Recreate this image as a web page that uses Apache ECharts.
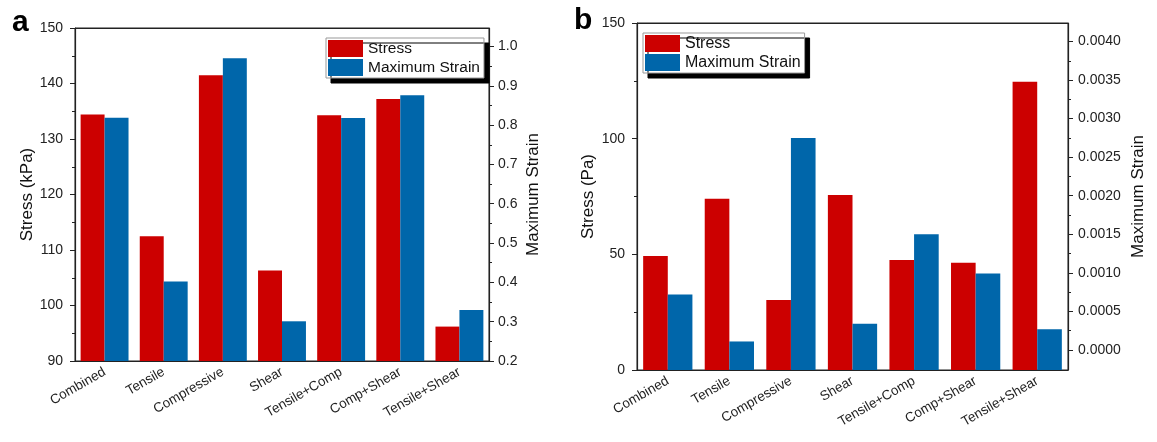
<!DOCTYPE html>
<html>
<head>
<meta charset="utf-8">
<script src="https://cdn.jsdelivr.net/npm/echarts@6/dist/echarts.min.js"></script>
<style>
  html, body { margin: 0; padding: 0; background: #fff; }
  #chart { width: 1157px; height: 442px; }
</style>
</head>
<body>
<div id="chart"></div>
<script>
const categories = ['Combined', 'Tensile', 'Compressive', 'Shear', 'Tensile+Comp', 'Comp+Shear', 'Tensile+Shear'];

// panel a
const stressA = [134.4, 112.5, 141.5, 106.3, 134.3, 137.2, 96.2];
const strainA = [0.819, 0.402, 0.970, 0.301, 0.818, 0.876, 0.330];
const stressTicksA = [90, 100, 110, 120, 130, 140, 150];
const strainTicksA = [0.2, 0.3, 0.4, 0.5, 0.6, 0.7, 0.8, 0.9, 1.0];

// panel b
const stressB = [49.3, 74.0, 30.3, 75.7, 47.5, 46.4, 124.6];
const strainB = [0.00072, 0.00011, 0.00275, 0.00034, 0.00150, 0.00099, 0.00027];
const stressTicksB = [0, 50, 100, 150];
const strainTicksB = [0, 0.0005, 0.001, 0.0015, 0.002, 0.0025, 0.003, 0.0035, 0.004];

const RED = '#cc0000';
const BLUE = '#0066aa';
const INK = '#222';
const FONT = 'Arial, "Liberation Sans", sans-serif';

const mids = (t) => t.slice(1).map((v, i) => (v + t[i]) / 2);

const chart = echarts.init(document.getElementById('chart'));

// 4 category axes per panel: bottom (labels + major ticks), bottom minor ticks,
// top mirror major ticks, top mirror minor ticks
function xAxes(grid) {
  const base = {
    type: 'category', gridIndex: grid, data: categories,
    axisLine: { show: false, onZero: false }, axisLabel: { show: false }, splitLine: { show: false }
  };
  return [
    Object.assign({}, base, {
      position: 'bottom',
      axisLine: { show: true, onZero: false, lineStyle: { color: INK, width: 1.2 } },
      axisTick: { alignWithLabel: true, length: 5, lineStyle: { color: INK } },
      axisLabel: { show: true, rotate: 30, fontSize: 13.5, color: INK, fontFamily: FONT, margin: 10, interval: 0 }
    }),
    Object.assign({}, base, {
      position: 'bottom',
      axisTick: { alignWithLabel: false, length: 3, lineStyle: { color: INK } }
    }),
    Object.assign({}, base, {
      position: 'top',
      axisLine: { show: true, onZero: false, lineStyle: { color: INK, width: 1.2 } },
      axisTick: { alignWithLabel: true, inside: true, length: 5, lineStyle: { color: INK } }
    }),
    Object.assign({}, base, {
      position: 'top',
      axisTick: { alignWithLabel: false, inside: true, length: 3, lineStyle: { color: INK } }
    })
  ];
}

function yPair(grid, pos, min, max, ticks, fmt, name, gap, margin) {
  return [
    {
      type: 'value', gridIndex: grid, position: pos, min: min, max: max, startValue: min,
      name: name, nameLocation: 'middle', nameGap: gap, nameRotate: 90,
      nameTextStyle: { fontSize: 17, color: '#111', fontFamily: FONT },
      splitLine: { show: false },
      axisLine: { show: true, onZero: false, lineStyle: { color: INK, width: 1.2 } },
      axisTick: { show: true, length: 5, customValues: ticks, lineStyle: { color: INK } },
      axisLabel: { customValues: ticks, formatter: fmt, fontSize: 14, color: INK, fontFamily: FONT, margin: margin }
    },
    {
      type: 'value', gridIndex: grid, position: pos, min: min, max: max,
      splitLine: { show: false }, axisLine: { show: false, onZero: false }, axisLabel: { show: false },
      axisTick: { show: true, length: 3, customValues: mids(ticks), lineStyle: { color: INK } }
    }
  ];
}

function legend(left, top, size) {
  return {
    left: left, top: top,
    orient: 'vertical', icon: 'rect', itemWidth: 35, itemHeight: 17, itemGap: 2,
    padding: [2, 4, 2, 2], backgroundColor: '#fff', borderColor: '#999', borderWidth: 1,
    shadowColor: '#000', shadowBlur: 0, shadowOffsetX: 5, shadowOffsetY: 5,
    textStyle: { fontSize: size, color: '#111', fontFamily: FONT },
    data: ['Stress', 'Maximum Strain'], selectedMode: false
  };
}

const option = {
  animation: false,
  textStyle: { fontFamily: FONT },
  title: [
    { text: 'a', left: 7, top: 3, textStyle: { fontSize: 30, fontWeight: 'bold', color: '#000', fontFamily: FONT } },
    { text: 'b', left: 569, top: 1, textStyle: { fontSize: 30, fontWeight: 'bold', color: '#000', fontFamily: FONT } }
  ],
  legend: [legend(326, 38, 15.5), legend(643, 33, 16)],
  grid: [
    { left: 75, top: 28, width: 414, height: 333, show: true, borderColor: INK, borderWidth: 1 },
    { left: 637, top: 23, width: 431, height: 347, show: true, borderColor: INK, borderWidth: 1 }
  ],
  xAxis: xAxes(0).concat(xAxes(1)),
  yAxis: [].concat(
    yPair(0, 'left', 90, 150, stressTicksA, (v) => String(v), 'Stress (kPa)', 38, 12),
    yPair(0, 'right', 0.2, 1.047, strainTicksA, (v) => v.toFixed(1), 'Maximum Strain', 36, 9),
    yPair(1, 'left', 0, 150, stressTicksB, (v) => String(v), 'Stress (Pa)', 40, 12),
    yPair(1, 'right', -0.00026, 0.00424, strainTicksB, (v) => v.toFixed(4), 'Maximum Strain', 62, 10)
  ),
  series: [
    { name: 'Stress', type: 'bar', xAxisIndex: 0, yAxisIndex: 0, data: stressA, barGap: '0%', barCategoryGap: '19%', itemStyle: { color: RED } },
    { name: 'Maximum Strain', type: 'bar', xAxisIndex: 0, yAxisIndex: 2, data: strainA, barGap: '0%', barCategoryGap: '19%', itemStyle: { color: BLUE } },
    { name: 'Stress', type: 'bar', xAxisIndex: 4, yAxisIndex: 4, data: stressB, barGap: '0%', barCategoryGap: '20%', itemStyle: { color: RED } },
    { name: 'Maximum Strain', type: 'bar', xAxisIndex: 4, yAxisIndex: 6, data: strainB, barGap: '0%', barCategoryGap: '20%', itemStyle: { color: BLUE } }
  ]
};

chart.setOption(option);
</script>
</body>
</html>
